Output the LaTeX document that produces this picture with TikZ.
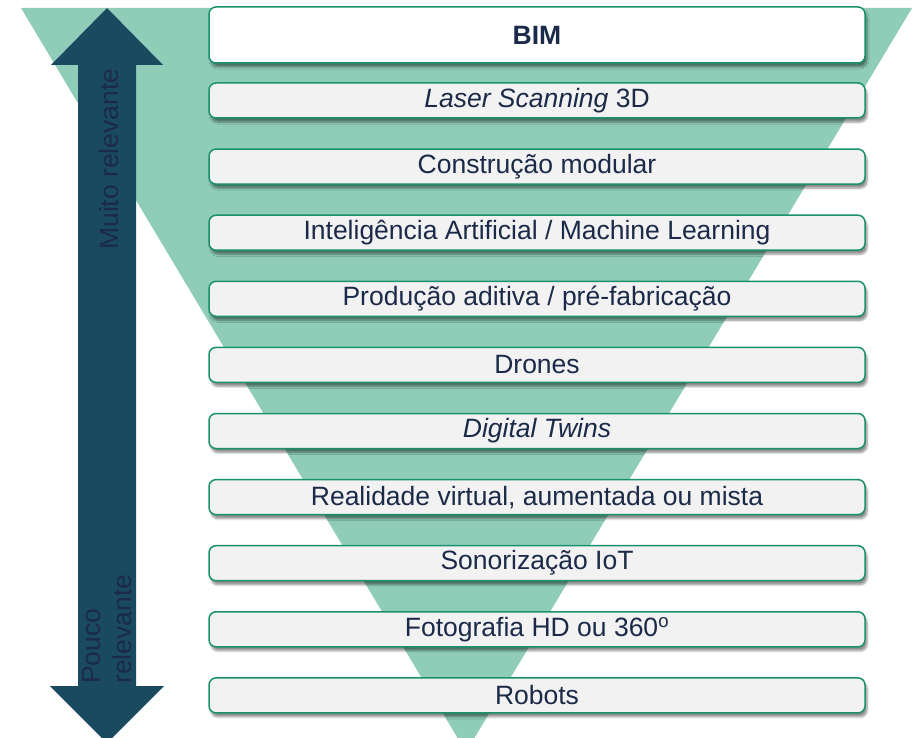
\documentclass[tikz,border=0pt]{standalone}
\usepackage{fontspec}
\setmainfont{Liberation Sans}
\usetikzlibrary{shadows.blur}
\definecolor{funnelgreen}{HTML}{8FCDB9}
\definecolor{arrowblue}{HTML}{1A4A60}
\definecolor{boxgreen}{HTML}{19916E}
\definecolor{boxgrey}{HTML}{F2F2F2}
\definecolor{navytext}{HTML}{1B2A48}
\begin{document}
\begin{tikzpicture}[
                        x = 1pt,
                        y = -1pt,
           techbox/.style = {rectangle,
                            rounded corners=7pt,
                            draw=boxgreen,
                            line width=1.5pt,
                            fill=boxgrey,
                            minimum width=656pt,
                            minimum height=35pt,
                            inner sep=0pt,
                            text=navytext,
                            font=\fontsize{26.5}{30}\selectfont,
                            blur shadow={shadow xshift=2pt, shadow yshift=-4pt,
                                         shadow blur steps=6, shadow opacity=45}},
            topbox/.style = {techbox, fill=white, minimum height=56pt,
                            font=\fontsize{26.5}{30}\selectfont\bfseries},
          sidetext/.style = {rotate=90, inner sep=0pt, text=navytext,
                            font=\fontsize{26.5}{31}\selectfont},
            ]
    \useasboundingbox (0,0) rectangle (912,738);

    % funnel and relevance arrow
    \fill[funnelgreen] (21,8) -- (912,8) -- (466,752) -- cycle;
    \fill[arrowblue] (107,8) -- (163,65) -- (136,65) -- (136,686) -- (164,686)
        -- (107,743) -- (50,686) -- (78,686) -- (78,65) -- (51,65) -- cycle;
    \node[sidetext, anchor=base west] (muito) at (118,250) {Muito relevante};
    \node[sidetext, anchor=north west, align=left] (pouco) at (82,684)
        {Pouco\\relevante};

    % technologies
    \node[topbox] (bim) at (537,35) {BIM};
    \foreach \txt [count=\i] in {{\itshape Laser Scanning\/} 3D,
                                 Construção modular,
                                 Inteligência Artificial / Machine Learning,
                                 Produção aditiva / pré-fabricação,
                                 Drones,
                                 {\itshape Digital Twins},
                                 {Realidade virtual, aumentada ou mista},
                                 Sonorização IoT,
                                 Fotografia HD ou 360\textsuperscript{o},
                                 Robots}{%
        \node[techbox] (tech\i) at (537,{100.5+66.1*(\i-1)}) {\txt};
    }
\end{tikzpicture}
\end{document}
